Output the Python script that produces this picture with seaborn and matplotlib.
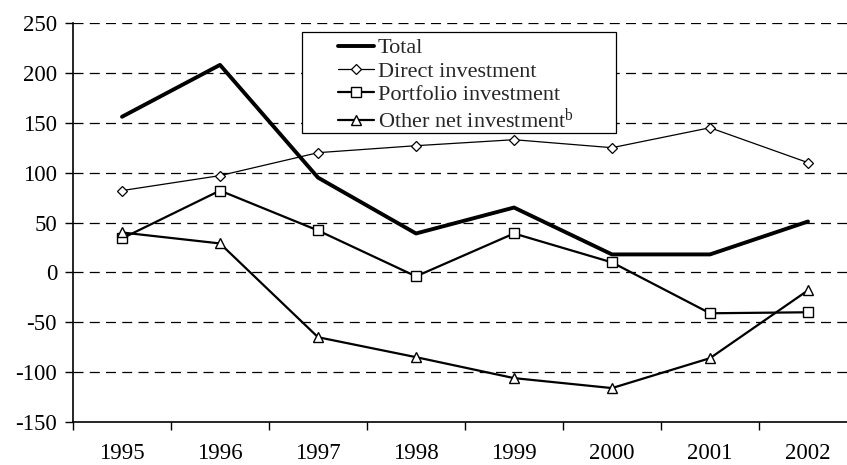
import matplotlib
matplotlib.use("Agg")
import matplotlib.pyplot as plt
from matplotlib.patches import Rectangle
import seaborn as sns
import pandas as pd

years = ["1995", "1996", "1997", "1998", "1999", "2000", "2001", "2002"]
total = [156, 208, 95, 39, 65, 18, 18, 51]
direct = [82, 97, 120, 127, 133, 125, 145, 110]
portfolio = [34, 82, 42, -4, 39, 10, -41, -40]
other = [40, 29, -65, -85, -106, -116, -86, -18]
y_ticks = [-150, -100, -50, 0, 50, 100, 150, 200, 250]

sns.set_theme(style="white")
plt.rcParams["font.family"] = ["Liberation Serif", "DejaVu Serif"]
plt.rcParams["mathtext.fontset"] = "custom"
plt.rcParams["mathtext.rm"] = "Liberation Serif"
plt.rcParams["mathtext.it"] = "Liberation Serif:italic"

df = pd.DataFrame({"year": years, "Total": total, "Direct": direct,
                   "Portfolio": portfolio, "Other": other})

W, H = 847, 465
fig = plt.figure(figsize=(W / 100, H / 100), dpi=100)
ax = fig.add_axes([73 / W, (H - 422) / H, 784 / W, 399 / H])

sns.lineplot(data=df, x="year", y="Total", ax=ax, color="black", lw=2.8,
             sort=False, label="Total")
sns.lineplot(data=df, x="year", y="Direct", ax=ax, color="black", lw=0.9,
             marker="D", markersize=5.5, markerfacecolor="white",
             markeredgecolor="black", markeredgewidth=0.9, sort=False,
             label="Direct investment")
sns.lineplot(data=df, x="year", y="Portfolio", ax=ax, color="black", lw=1.6,
             marker="s", markersize=7, markerfacecolor="white",
             markeredgecolor="black", markeredgewidth=1.0, sort=False,
             label="Portfolio investment")
sns.lineplot(data=df, x="year", y="Other", ax=ax, color="black", lw=1.6,
             marker="^", markersize=7.5, markerfacecolor="white",
             markeredgecolor="black", markeredgewidth=1.0, sort=False,
             label="Other net investment$^{\\mathrm{b}}$")

ax.set_xlim(-0.5, len(years) - 0.5)
ax.set_ylim(-150, 250)
ax.set_yticks(y_ticks)
ax.set_yticklabels([str(v) for v in y_ticks])
ax.set_xticks(range(len(years)))
ax.set_xticklabels(years)
ax.set_xticks([i + 0.5 for i in range(-1, len(years))], minor=True)
ax.tick_params(axis="x", which="major", length=0, pad=15, labelsize=16.5,
               labelcolor="black")
ax.tick_params(axis="x", which="minor", length=6, width=1, color="black",
               direction="out", bottom=True)
ax.tick_params(axis="y", which="major", length=6, width=1, color="black",
               direction="out", left=True, pad=5.5, labelsize=16.5,
               labelcolor="black")
ax.set_xlabel("")
ax.set_ylabel("")

for v in y_ticks[1:]:
    ax.axhline(v, color="black", lw=0.9, ls=(0, (8, 5)), zorder=0)

for s in ["top", "right"]:
    ax.spines[s].set_visible(False)
for s in ["left", "bottom"]:
    ax.spines[s].set_color("black")
    ax.spines[s].set_linewidth(1.2)

# legend box (Excel-style with wide horizontal padding)
ax.add_patch(Rectangle((0.292, 0.724), 0.4006, 0.253, transform=ax.transAxes,
                       facecolor="white", edgecolor="black", lw=0.9,
                       zorder=4))
leg = ax.legend(loc="upper left", bbox_to_anchor=(0.338, 0.963),
                borderaxespad=0, fontsize=16, frameon=False,
                handlelength=1.6, handletextpad=0.2,
                labelspacing=0.12, borderpad=0.0)
leg.set_zorder(5)

fig.savefig("out.png", dpi=100)
